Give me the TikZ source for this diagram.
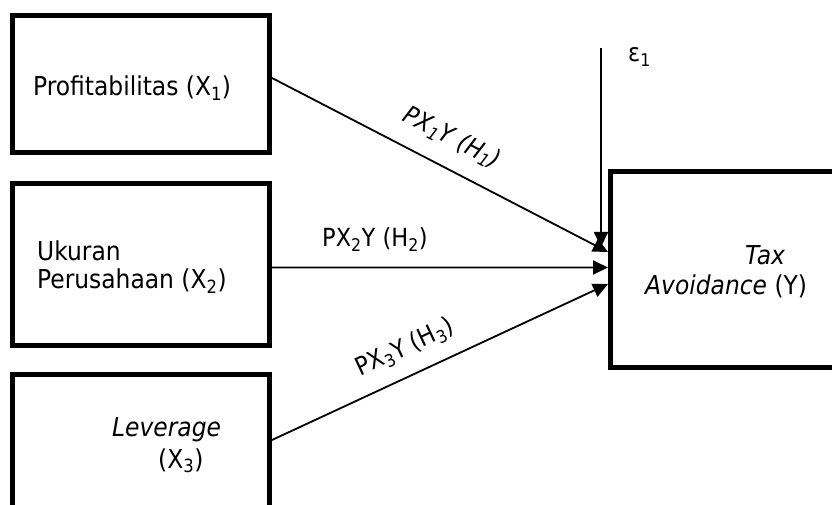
\documentclass[tikz,border=0pt]{standalone}
\usepackage{fontspec}
\setmainfont{DejaVu Sans Condensed}[ItalicFont={DejaVu Sans Condensed Oblique}]
\usetikzlibrary{arrows.meta,calc}
\newcommand\sbs[1]{\textsubscript{#1}}
\begin{document}
\begin{tikzpicture}[x=1bp,y=-1bp,
  box/.style={draw, line width=5bp, outer sep=2.5bp, inner sep=0pt},
  txt/.style={inner sep=0pt, anchor=base west, font=\fontsize{26bp}{30bp}\selectfont},
  lab/.style={inner sep=0pt, font=\fontsize{25bp}{29bp}\selectfont},
  conn/.style={line width=1.8bp, -{Triangle[length=15bp,width=14bp]}}]
\useasboundingbox (0,0) rectangle (832,505);
\clip (0,0) rectangle (832,505);
% boxes
\node[box, minimum width=256.5bp, minimum height=136.5bp] (b1) at (141.25,84.25) {};
\node[box, minimum width=256.5bp, minimum height=161.5bp] (b2) at (141.25,264.75) {};
\node[box, minimum width=256.5bp, minimum height=155.5bp] (b3) at (141.25,452.25) {};
\node[box, minimum width=259.5bp, minimum height=195.5bp] (y) at (740.25,269.75) {};
% texts
\node[txt] (t1) at (33,96) {Profitabilitas (X\sbs{1})};
\node[txt] (t2a) at (37,261) {Ukuran};
\node[txt] (t2b) at (37,289) {Perusahaan (X\sbs{2})};
\node[txt] (t3a) at (112,436) {\itshape Leverage};
\node[txt] (t3b) at (158,468) {(X\sbs{3})};
\node[txt] (tya) at (745,265) {\itshape Tax};
\node[txt] (tyb) at (645,295) {\textit{Avoidance} (Y)};
% error term
\coordinate (et) at (601,48);
\coordinate (eb) at (601,247);
\node[txt, font=\fontsize{25bp}{29bp}\selectfont] (eps) at (628,62) {ε\sbs{1}};
% connectors
\draw[conn] ([yshift=6.25bp]b1.east) -- ([yshift=17.75bp]y.west);
\draw[conn] ([yshift=-2.75bp]b2.east) -- ([yshift=2.25bp]y.west);
\draw[conn] ([yshift=12.25bp]b3.east) -- ([yshift=-14.25bp]y.west);
\draw[conn] (et) -- (eb);
% path labels
\node[lab, rotate=-27.4] (l1) at (452,138) {\itshape PX\sbs{1}Y (H\sbs{1})};
\node[txt, font=\fontsize{25bp}{29bp}\selectfont] (l2) at (322,247) {PX\sbs{2}Y (H\sbs{2})};
\node[lab, rotate=24.9] (l3) at (405,348) {PX\sbs{3}Y (H\sbs{3})};
\end{tikzpicture}
\end{document}
